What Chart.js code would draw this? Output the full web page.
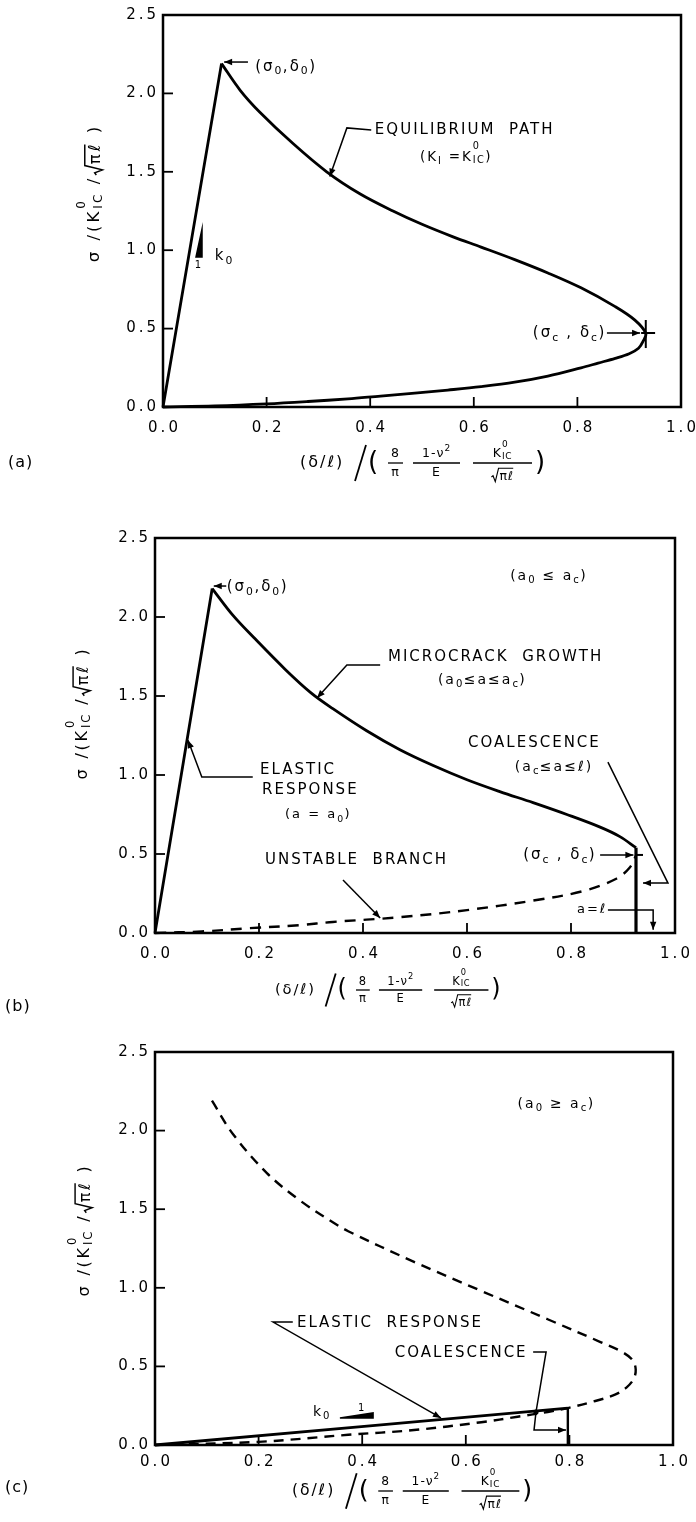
<!DOCTYPE html>
<html><head><meta charset="utf-8">
<script src="https://cdn.jsdelivr.net/npm/chart.js@4.4.1/dist/chart.umd.min.js"></script>
<style>
html,body{margin:0;padding:0;background:#fff;}
#wrap{position:relative;width:696px;height:1522px;overflow:hidden;background:#fff;}
canvas{position:absolute;left:0;}
</style></head>
<body><div id="wrap">
<canvas id="ca" width="696" height="500" style="top:0px"></canvas>
<canvas id="cb" width="696" height="530" style="top:500px"></canvas>
<canvas id="cc" width="696" height="492" style="top:1030px"></canvas>
</div>
<script>
const FONT = '"DejaVu Sans", "Liberation Sans", sans-serif';

// ---- axes ----
const xTickValues = [0, 0.2, 0.4, 0.6, 0.8, 1.0];
const xTickLabels = ['0.0', '0.2', '0.4', '0.6', '0.8', '1.0'];
const yTickValues = [0, 0.5, 1.0, 1.5, 2.0, 2.5];
const yTickLabels = ['0.0', '0.5', '1.0', '1.5', '2.0', '2.5'];

// ---- panel (a) ----
const aElasticX = [0, 0.113];
const aElasticY = [0, 2.19];
const aPathX = [0.113, 0.149, 0.187, 0.251, 0.316, 0.38, 0.444, 0.50, 0.56, 0.614, 0.679, 0.743, 0.807, 0.873, 0.911, 0.932, 0.927, 0.918, 0.90, 0.873, 0.84, 0.807, 0.743, 0.679, 0.614, 0.55, 0.486, 0.42, 0.357, 0.28, 0.2, 0.1, 0];
const aPathY = [2.19, 2.02, 1.88, 1.68, 1.50, 1.36, 1.25, 1.165, 1.085, 1.02, 0.94, 0.855, 0.76, 0.64, 0.554, 0.47, 0.42, 0.375, 0.34, 0.31, 0.28, 0.25, 0.197, 0.158, 0.13, 0.108, 0.088, 0.07, 0.052, 0.035, 0.02, 0.007, 0];

// ---- panel (b) ----
const bElasticX = [0, 0.11];
const bElasticY = [0, 2.18];
const bGrowthX = [0.11, 0.15, 0.19, 0.25, 0.30, 0.342, 0.407, 0.471, 0.535, 0.6, 0.663, 0.727, 0.792, 0.856, 0.894, 0.925];
const bGrowthY = [2.18, 2.01, 1.87, 1.67, 1.52, 1.42, 1.28, 1.16, 1.06, 0.97, 0.895, 0.825, 0.75, 0.67, 0.61, 0.54];
const bCoalX = [0.925, 0.925];
const bCoalY = [0.54, 0];
const bUnstableX = [0, 0.09, 0.18, 0.279, 0.342, 0.471, 0.6, 0.727, 0.823, 0.888, 0.913, 0.925];
const bUnstableY = [0, 0.01, 0.03, 0.05, 0.07, 0.10, 0.145, 0.205, 0.265, 0.345, 0.415, 0.49];

// ---- panel (c) ----
const cElasticX = [0, 0.797];
const cElasticY = [0, 0.235];
const cCoalX = [0.797, 0.797];
const cCoalY = [0.235, 0];
const cUnstableX = [0.11, 0.15, 0.216, 0.28, 0.344, 0.373, 0.5, 0.63, 0.758, 0.86, 0.9, 0.922, 0.928, 0.924, 0.91, 0.888, 0.85, 0.797, 0.758, 0.7, 0.63, 0.5, 0.373, 0.2, 0];
const cUnstableY = [2.19, 1.98, 1.73, 1.555, 1.415, 1.36, 1.165, 0.98, 0.80, 0.655, 0.595, 0.54, 0.48, 0.42, 0.365, 0.32, 0.28, 0.235, 0.21, 0.18, 0.145, 0.095, 0.065, 0.02, 0];

// ---------- helpers ----------
function pts(xs, ys) { return xs.map((x, i) => ({ x: x, y: ys[i] })); }
function series(xs, ys, dash, w) {
  return {
    data: pts(xs, ys), showLine: true, borderColor: '#000', backgroundColor: '#000',
    borderWidth: w || 2.8, pointRadius: 0, pointHoverRadius: 0, tension: 0.35, fill: false,
    clip: false, borderDash: dash || [], borderJoinStyle: 'round', borderCapStyle: 'butt'
  };
}

function parseRich(str) {
  const out = []; let buf = ''; let i = 0;
  function group() { const j = str.indexOf('}', i); const g = str.slice(i + 1, j); i = j + 1; return g; }
  while (i < str.length) {
    const c = str[i];
    if ('_^#@'.includes(c) && str[i + 1] === '{') {
      if (buf) { out.push({ k: 'n', t: buf }); buf = ''; }
      i++;
      if (c === '@') { const a = group(); const b = group(); out.push({ k: 'stack', t: a, t2: b }); }
      else out.push({ k: c === '_' ? 'sub' : (c === '^' ? 'sup' : 'sqrt'), t: group() });
    } else { buf += c; i++; }
  }
  if (buf) out.push({ k: 'n', t: buf });
  return out;
}
function setFont(ctx, size, sp) {
  ctx.font = size.toFixed(2) + 'px ' + FONT;
  try { ctx.letterSpacing = sp.toFixed(2) + 'px'; } catch (e) {}
}
function rich(ctx, str, x, y, size, o) {
  o = o || {};
  const sp = o.spacing === undefined ? 2 : o.spacing;
  const small = size * 0.72;
  const parts = parseRich(str);
  const W = (t, s) => { setFont(ctx, s, sp * s / size); return ctx.measureText(t).width; };
  const widths = parts.map(p => {
    if (p.k === 'n') return W(p.t, size);
    if (p.k === 'sqrt') return size * 0.7 + W(p.t, size);
    if (p.k === 'stack') return Math.max(W(p.t, small), W(p.t2, small));
    return W(p.t, small);
  });
  const total = widths.reduce((a, b) => a + b, 0);
  let cx = x - (o.align === 'center' ? total / 2 : (o.align === 'right' ? total : 0));
  ctx.textAlign = 'left'; ctx.textBaseline = 'middle'; ctx.fillStyle = '#000';
  parts.forEach((p, i) => {
    if (p.k === 'n') { setFont(ctx, size, sp); ctx.fillText(p.t, cx, y); }
    else if (p.k === 'sub') { setFont(ctx, small, sp * 0.72); ctx.fillText(p.t, cx, y + size * 0.32); }
    else if (p.k === 'sup') { setFont(ctx, small, sp * 0.72); ctx.fillText(p.t, cx, y - size * 0.42); }
    else if (p.k === 'stack') {
      setFont(ctx, small, sp * 0.72);
      ctx.fillText(p.t, cx, y - size * 0.78);
      ctx.fillText(p.t2, cx, y + size * 0.22);
    } else {
      const s = size;
      ctx.save(); ctx.lineWidth = Math.max(1, s * 0.09); ctx.strokeStyle = '#000';
      ctx.beginPath();
      ctx.moveTo(cx + 0.05 * s, y + 0.08 * s);
      ctx.lineTo(cx + 0.18 * s, y - 0.02 * s);
      ctx.lineTo(cx + 0.36 * s, y + 0.45 * s);
      ctx.lineTo(cx + 0.62 * s, y - 0.62 * s);
      ctx.lineTo(cx + widths[i] - sp, y - 0.62 * s);
      ctx.stroke(); ctx.restore();
      setFont(ctx, size, sp); ctx.fillText(p.t, cx + s * 0.7, y + 0.05 * s);
    }
    cx += widths[i];
  });
  return total;
}
function seg(ctx, x1, y1, x2, y2) { ctx.beginPath(); ctx.moveTo(x1, y1); ctx.lineTo(x2, y2); ctx.stroke(); }
function polyline(ctx, P, arrow) {
  ctx.beginPath(); ctx.moveTo(P[0][0], P[0][1]);
  for (let k = 1; k < P.length; k++) ctx.lineTo(P[k][0], P[k][1]);
  ctx.stroke();
  if (arrow) {
    const [x2, y2] = P[P.length - 1], [x1, y1] = P[P.length - 2];
    const a = Math.atan2(y2 - y1, x2 - x1), L = 8, H = 3.2;
    const c = Math.cos(a), s = Math.sin(a);
    ctx.beginPath(); ctx.moveTo(x2, y2);
    ctx.lineTo(x2 - L * c + H * s, y2 - L * s - H * c);
    ctx.lineTo(x2 - L * c - H * s, y2 - L * s + H * c);
    ctx.closePath(); ctx.fill();
  }
}
function frac(ctx, num, den, cx, yc, bw, s, dd) {
  rich(ctx, num, cx, yc - 9 * s, 12.5 * s, { align: 'center', spacing: 1 * s });
  ctx.lineWidth = 1.3; seg(ctx, cx - bw / 2, yc, cx + bw / 2, yc);
  rich(ctx, den, cx, yc + dd * s, 12.5 * s, { align: 'center', spacing: 1 * s });
}
function drawXTitle(ctx, x0, yc, s) {
  rich(ctx, '(δ/ℓ)', x0, yc, 16 * s, { spacing: 2 * s });
  ctx.lineWidth = 1.8;
  seg(ctx, x0 + 55 * s, yc + 18 * s, x0 + 66 * s, yc - 18 * s);
  rich(ctx, '(', x0 + 68 * s, yc, 26 * s, { spacing: 0 });
  frac(ctx, '8', 'π', x0 + 95.5 * s, yc, 15 * s, s, 10);
  frac(ctx, '1-ν^{2}', 'E', x0 + 136.5 * s, yc, 47 * s, s, 10);
  frac(ctx, 'K@{0}{IC}', '#{πℓ}', x0 + 202.5 * s, yc, 59 * s, s, 13);
  rich(ctx, ')', x0 + 235 * s, yc, 26 * s, { spacing: 0 });
}
function drawYTitle(ctx, cx, cy, size, sp) {
  ctx.save(); ctx.translate(cx, cy); ctx.rotate(-Math.PI / 2);
  rich(ctx, 'σ /(K@{0}{IC} /#{πℓ} )', 0, 0, size, { align: 'center', spacing: sp });
  ctx.restore();
}

function decor(p) {
  return {
    id: 'decor',
    afterDatasetsDraw(chart) {
      const ctx = chart.ctx, ca = chart.chartArea;
      const sx = chart.scales.x, sy = chart.scales.y;
      const X = v => sx.getPixelForValue(v), Y = v => sy.getPixelForValue(v);
      ctx.save();
      ctx.strokeStyle = '#000'; ctx.fillStyle = '#000'; ctx.lineCap = 'butt';
      ctx.lineWidth = 2.5;
      ctx.strokeRect(ca.left, ca.top, ca.right - ca.left, ca.bottom - ca.top);
      ctx.lineWidth = 1.8;
      xTickValues.forEach(v => seg(ctx, X(v), ca.bottom, X(v), ca.bottom - 10));
      yTickValues.forEach(v => seg(ctx, ca.left, Y(v), ca.left + 10, Y(v)));
      xTickValues.forEach((v, i) => rich(ctx, xTickLabels[i], X(v) + 1.5, ca.bottom + p.xLabelDy, 15, { align: 'center', spacing: 3 }));
      yTickValues.forEach((v, i) => rich(ctx, yTickLabels[i], ca.left - 4, Y(v), 15, { align: 'right', spacing: 3 }));
      drawYTitle(ctx, ca.left + p.yTitleDx, ca.top + p.yTitleDy, p.yTitleSize, p.yTitleSp);
      drawXTitle(ctx, ca.left + p.xTitleDx, ca.bottom + p.xTitleDy, p.xTitleScale);
      rich(ctx, p.label, p.labelX, p.labelY, 16, { spacing: 1 });
      p.ann.forEach(a => {
        if (a.t === 'text') rich(ctx, a.s, X(a.x), Y(a.y), a.size, { align: a.align || 'left', spacing: a.sp === undefined ? 2 : a.sp });
        else if (a.t === 'line') { ctx.lineWidth = a.w || 1.5; polyline(ctx, a.pts.map(q => [X(q[0]), Y(q[1])]), a.arrow); }
        else if (a.t === 'tri') {
          ctx.beginPath(); a.pts.forEach((q, k) => k ? ctx.lineTo(X(q[0]), Y(q[1])) : ctx.moveTo(X(q[0]), Y(q[1])));
          ctx.closePath(); ctx.lineWidth = 1.5; ctx.stroke(); ctx.fill();
        } else if (a.t === 'dot') { ctx.beginPath(); ctx.arc(X(a.x), Y(a.y), 2.6, 0, Math.PI * 2); ctx.fill(); }
      });
      ctx.restore();
    }
  };
}

function makeChart(id, p) {
  return new Chart(document.getElementById(id), {
    type: 'line',
    data: { datasets: p.datasets },
    options: {
      responsive: false, animation: false, devicePixelRatio: 1, events: [],
      layout: { padding: p.padding },
      plugins: { legend: { display: false }, tooltip: { enabled: false } },
      scales: {
        x: { type: 'linear', min: 0, max: 1, display: false },
        y: { type: 'linear', min: 0, max: 2.5, display: false }
      }
    },
    plugins: [decor(p)]
  });
}

makeChart('ca', {
  padding: { left: 163, top: 15, right: 15, bottom: 93 },
  datasets: [series(aElasticX, aElasticY), series(aPathX, aPathY)],
  xLabelDy: 21, yTitleDx: -68, yTitleDy: 178, yTitleSize: 16.5, yTitleSp: 3,
  xTitleDx: 137, xTitleDy: 56, xTitleScale: 1,
  label: '(a)', labelX: 8, labelY: 463,
  ann: [
    { t: 'text', s: '(σ_{0},δ_{0})', x: 0.178, y: 2.17, size: 15 },
    { t: 'line', pts: [[0.164, 2.20], [0.118, 2.20]], arrow: true },
    { t: 'text', s: 'EQUILIBRIUM  PATH', x: 0.409, y: 1.767, size: 15 },
    { t: 'line', pts: [[0.402, 1.767], [0.355, 1.78], [0.322, 1.47]], arrow: true },
    { t: 'text', s: '(K_{I} =K@{0}{IC})', x: 0.496, y: 1.594, size: 13.5 },
    { t: 'tri', pts: [[0.0637, 0.957], [0.0753, 0.957], [0.0753, 1.135]] },
    { t: 'text', s: '1', x: 0.0676, y: 0.906, size: 10, align: 'center', sp: 0 },
    { t: 'text', s: 'k_{0}', x: 0.10, y: 0.963, size: 15 },
    { t: 'text', s: '(σ_{c} , δ_{c})', x: 0.714, y: 0.472, size: 15 },
    { t: 'line', pts: [[0.857, 0.472], [0.921, 0.472]], arrow: true },
    { t: 'line', pts: [[0.932, 0.555], [0.932, 0.376]], w: 2 },
    { t: 'line', pts: [[0.923, 0.472], [0.95, 0.472]], w: 2 }
  ]
});

makeChart('cb', {
  padding: { left: 155, top: 38, right: 21, bottom: 97 },
  datasets: [series(bElasticX, bElasticY), series(bGrowthX, bGrowthY), series(bCoalX, bCoalY, null, 3.2), series(bUnstableX, bUnstableY, [11, 8], 2.4)],
  xLabelDy: 21, yTitleDx: -72, yTitleDy: 175, yTitleSize: 16, yTitleSp: 2.8,
  xTitleDx: 120, xTitleDy: 57, xTitleScale: 0.92,
  label: '(b)', labelX: 5, labelY: 507,
  ann: [
    { t: 'text', s: '(a_{0} ≤ a_{c})', x: 0.683, y: 2.26, size: 14 },
    { t: 'text', s: '(σ_{0},δ_{0})', x: 0.138, y: 2.19, size: 15 },
    { t: 'line', pts: [[0.137, 2.196], [0.113, 2.196]], arrow: true },
    { t: 'text', s: 'MICROCRACK  GROWTH', x: 0.448, y: 1.747, size: 15 },
    { t: 'text', s: '(a_{0}≤a≤a_{c})', x: 0.544, y: 1.60, size: 14 },
    { t: 'line', pts: [[0.433, 1.696], [0.369, 1.696], [0.3115, 1.487]], arrow: true },
    { t: 'text', s: 'ELASTIC', x: 0.202, y: 1.03, size: 15 },
    { t: 'text', s: 'RESPONSE', x: 0.206, y: 0.905, size: 15 },
    { t: 'text', s: '(a = a_{0})', x: 0.25, y: 0.747, size: 13 },
    { t: 'line', pts: [[0.188, 0.987], [0.090, 0.987], [0.0635, 1.22]], arrow: true },
    { t: 'text', s: 'UNSTABLE  BRANCH', x: 0.2115, y: 0.462, size: 15 },
    { t: 'line', pts: [[0.3615, 0.335], [0.433, 0.095]], arrow: true },
    { t: 'text', s: 'COALESCENCE', x: 0.602, y: 1.203, size: 15 },
    { t: 'text', s: '(a_{c}≤a≤ℓ)', x: 0.692, y: 1.05, size: 14 },
    { t: 'line', pts: [[0.871, 1.082], [0.9865, 0.316], [0.9385, 0.316]], arrow: true },
    { t: 'text', s: '(σ_{c} , δ_{c})', x: 0.708, y: 0.494, size: 15 },
    { t: 'line', pts: [[0.856, 0.494], [0.92, 0.494]], arrow: true },
    { t: 'line', pts: [[0.925, 0.494], [0.9385, 0.494]], w: 2 },
    { t: 'text', s: 'a=ℓ', x: 0.8115, y: 0.146, size: 13 },
    { t: 'line', pts: [[0.871, 0.146], [0.958, 0.146], [0.958, 0.02]], arrow: true }
  ]
});

makeChart('cc', {
  padding: { left: 155, top: 22, right: 23, bottom: 77 },
  datasets: [series(cElasticX, cElasticY), series(cCoalX, cCoalY, null, 2.4), series(cUnstableX, cUnstableY, [10, 7], 2.4)],
  xLabelDy: 17, yTitleDx: -70, yTitleDy: 178, yTitleSize: 16, yTitleSp: 2.8,
  xTitleDx: 137, xTitleDy: 46, xTitleScale: 0.98,
  label: '(c)', labelX: 5, labelY: 458,
  ann: [
    { t: 'text', s: '(a_{0} ≥ a_{c})', x: 0.70, y: 2.17, size: 14 },
    { t: 'text', s: 'ELASTIC  RESPONSE', x: 0.274, y: 0.776, size: 15 },
    { t: 'line', pts: [[0.266, 0.782], [0.228, 0.782], [0.552, 0.172]], arrow: true },
    { t: 'text', s: 'COALESCENCE', x: 0.463, y: 0.585, size: 15 },
    { t: 'line', pts: [[0.730, 0.592], [0.755, 0.592], [0.7355, 0.21], [0.7317, 0.095], [0.7934, 0.095]], arrow: true },
    { t: 'dot', x: 0.7355, y: 0.21 },
    { t: 'text', s: 'k_{0}', x: 0.305, y: 0.21, size: 14 },
    { t: 'tri', pts: [[0.357, 0.172], [0.421, 0.172], [0.421, 0.204]] },
    { t: 'text', s: '1', x: 0.398, y: 0.235, size: 10, align: 'center', sp: 0 }
  ]
});
</script>
</body></html>
